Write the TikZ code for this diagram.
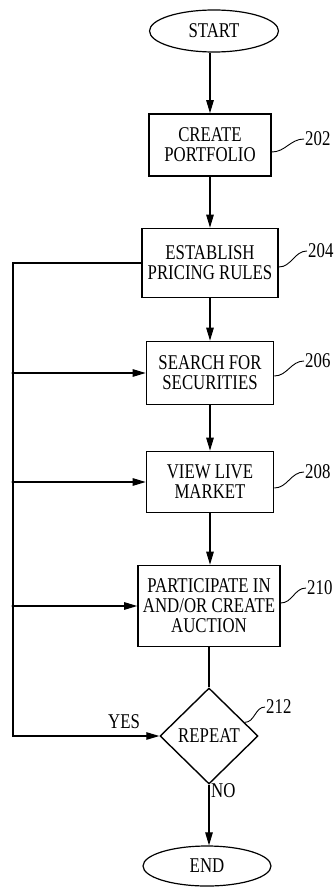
\documentclass[tikz,border=0pt]{standalone}
\usepackage{fontspec}
\setmainfont{Liberation Serif}[FakeStretch=0.8]
\usetikzlibrary{shapes.geometric,arrows.meta,calc}
\tikzset{every node/.style={font=\fontsize{21}{20}\selectfont, align=center},
  stepbox/.style={draw, line width=1.6pt, inner sep=0pt},
  terminal/.style={draw, ellipse, line width=1.2pt, inner sep=0pt},
  decision/.style={draw, diamond, line width=1.4pt, inner sep=0pt, minimum width=98pt, minimum height=96pt},
  flow/.style={line width=1.1pt, -{Triangle[length=13pt,width=7.5pt]}},
  refline/.style={line width=0.9pt},
  reflabel/.style={anchor=west, inner sep=1pt}}

\begin{document}
\begin{tikzpicture}[x=1pt,y=-1pt]
\fill[white] (0,0) rectangle (334,888);
\useasboundingbox (0,0) rectangle (334,888);
% steps
\node (start) [terminal, minimum width=129pt, minimum height=42pt] at (214,31) {START};
\node (create) [stepbox, minimum width=122pt, minimum height=62pt] at (210,145) {CREATE\\PORTFOLIO};
\node (rules) [stepbox, minimum width=136pt, minimum height=69pt] at (210,263) {ESTABLISH\\PRICING RULES};
\node (search) [stepbox, minimum width=127pt, minimum height=63pt] at (210,373) {SEARCH FOR\\SECURITIES};
\node (market) [stepbox, minimum width=127pt, minimum height=61pt] at (210,482) {VIEW LIVE\\MARKET};
\node (auction) [stepbox, minimum width=142pt, minimum height=81pt] at (209,606) {PARTICIPATE IN\\AND/OR CREATE\\AUCTION};
\node (repeat) [decision] at (209,736) {REPEAT};
\node (end) [terminal, minimum width=128pt, minimum height=40pt] at (207,866) {END};
\coordinate (loop) at (13,0);
% main flow
\draw[flow] (start.south -| create) -- (create);
\draw[flow] (create) -- (rules);
\draw[flow] (rules) -- (search);
\draw[flow] (search) -- (market);
\draw[flow] (market) -- (market |- auction.north);
\draw[line width=1.1pt] (auction) -- (repeat);
\draw[flow] (repeat) -- (repeat |- end.north);
% repeat loop
\draw[flow] (rules.west) -- (loop |- rules) -- (loop |- repeat) -- (repeat.west);
\foreach \step in {search, market, auction} {
  \fill (loop |- \step) circle (1.7pt);
  \draw[flow] (loop |- \step) -- (\step.west);
}
\node (yes) at (124,722) {YES};
\node (no) [anchor=west, inner sep=1pt] at (210,791) {NO};
% reference numerals
\node (l202) [reflabel] at (304,139) {202};
\node (l204) [reflabel] at (307,251) {204};
\node (l206) [reflabel] at (304,361) {206};
\node (l208) [reflabel] at (304,472) {208};
\node (l210) [reflabel] at (306,588) {210};
\node (l212) [reflabel] at (265,707) {212};
\draw[refline] ($(create.east)+(0,7)$) to[out=0,in=180] (l202.west);
\draw[refline] ($(rules.east)+(0,4)$) to[out=0,in=180] (l204.west);
\draw[refline] ($(search.east)+(0,3)$) to[out=0,in=180] (l206.west);
\draw[refline] ($(market.east)+(0,6)$) to[out=0,in=180] (l208.west);
\draw[refline] ($(auction.east)+(0,-3)$) to[out=0,in=180] (l210.west);
\draw[refline] ($(repeat.north)!0.72!(repeat.east)$) to[out=0,in=180] (l212.west);
\end{tikzpicture}
\end{document}
